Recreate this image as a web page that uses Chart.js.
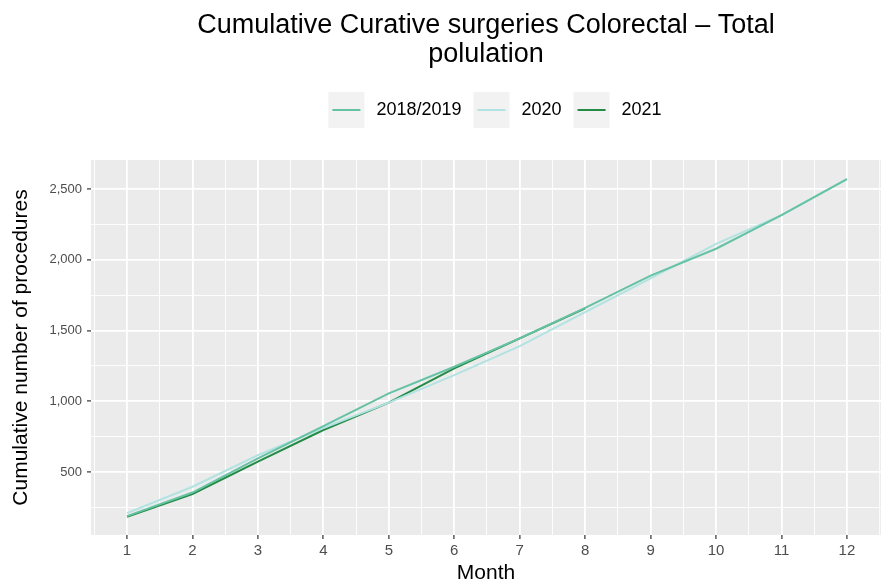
<!DOCTYPE html>
<html>
<head>
<meta charset="utf-8">
<script src="https://cdn.jsdelivr.net/npm/chart.js@4/dist/chart.umd.min.js"></script>
<style>
  html, body { margin: 0; padding: 0; background: #ffffff; overflow: hidden; }
  #wrap { width: 881px; height: 585px; position: relative; }
</style>
</head>
<body>
<div id="wrap"><canvas id="c" width="881" height="585"></canvas></div>
<script>
// ---- data ----
const months = [1, 2, 3, 4, 5, 6, 7, 8, 9, 10, 11, 12];
const seriesNames = ["2018/2019", "2020", "2021"];
const values2018_2019 = [188, 355, 597, 825, 1056, 1244, 1445, 1660, 1888, 2078, 2316, 2570];
const values2020 = [210, 396, 620, 811, 990, 1185, 1390, 1630, 1869, 2112, 2316, 2571];
const values2021 = [184, 345, 573, 797, 990, 1233, 1445, 1657];
const yTickValues = [250, 500, 750, 1000, 1250, 1500, 1750, 2000, 2250, 2500];
const xTickValues = [0.5, 1, 1.5, 2, 2.5, 3, 3.5, 4, 4.5, 5, 5.5, 6, 6.5, 7, 7.5, 8, 8.5, 9, 9.5, 10, 10.5, 11, 11.5, 12];
const xEdgeMinor = [12.5];
const titleLines = ["Cumulative Curative surgeries Colorectal \u2013 Total", "polulation"];

const colors = ["#66c2a4", "#b2e2e2", "#238b45"];
const allValues = [values2018_2019, values2020, values2021];

const datasets = allValues.map((vals, i) => ({
  label: seriesNames[i],
  data: vals.map((v, k) => ({ x: months[k], y: v })),
  borderColor: colors[i],
  backgroundColor: colors[i],
  borderWidth: 2,
  pointRadius: 0,
  pointHoverRadius: 0,
  tension: 0,
  fill: false
}));

const FONT = "'Liberation Sans', Arial, Helvetica, sans-serif";
const LEG_E = 22; // extra vertical room inside legend item
const LEG_SHIFT = 9;

const panelBg = {
  id: 'panelBg',
  afterLayout(chart) {
    const lg = chart.legend;
    if (lg) { lg.left += LEG_SHIFT; lg.right += LEG_SHIFT; }
  },
  beforeDraw(chart) {
    const { ctx, chartArea: a } = chart;
    ctx.save();
    ctx.fillStyle = '#ebebeb';
    ctx.fillRect(a.left, a.top, a.right - a.left, a.bottom - a.top);
    const lg = chart.legend;
    if (lg && lg.legendHitBoxes) {
      lg.legendHitBoxes.forEach((hb, i) => {
        const top = hb.top + LEG_E;
        ctx.fillStyle = '#f2f2f2';
        ctx.fillRect(hb.left, top, 36, 36);
        ctx.strokeStyle = colors[i];
        ctx.lineWidth = 2;
        ctx.beginPath();
        ctx.moveTo(hb.left + 4, top + 18);
        ctx.lineTo(hb.left + 32, top + 18);
        ctx.stroke();
      });
    }
    ctx.restore();
  },
  beforeDatasetsDraw(chart) {
    const { ctx, chartArea: a, scales } = chart;
    ctx.save();
    ctx.strokeStyle = '#ffffff';
    ctx.lineWidth = 0.9;
    xEdgeMinor.forEach(v => {
      const px = scales.x.getPixelForValue(v);
      if (px <= a.right) {
        ctx.beginPath();
        ctx.moveTo(px, a.top);
        ctx.lineTo(px, a.bottom);
        ctx.stroke();
      }
    });
    ctx.restore();
  }
};

const isMajorX = v => Math.abs(v - Math.round(v)) < 1e-6;
const isMajorY = v => v % 500 === 0;

new Chart(document.getElementById('c'), {
  type: 'line',
  data: { datasets },
  options: {
    responsive: false,
    animation: false,
    devicePixelRatio: 1,
    layout: { padding: { left: 0, right: 0, top: 0, bottom: 0 } },
    plugins: {
      tooltip: { enabled: false },
      title: {
        display: true,
        fullSize: false,
        text: titleLines,
        color: '#000000',
        font: { family: FONT, size: 27, weight: 'normal', lineHeight: 29 / 27 },
        padding: { top: 11, bottom: -11 }
      },
      legend: {
        display: true,
        fullSize: false,
        position: 'top',
        align: 'center',
        labels: {
          boxWidth: 39,
          boxHeight: 36 + 2 * LEG_E,
          padding: 12,
          color: '#1a1a1a',
          font: { family: FONT, size: 18 },
          generateLabels: (chart) => seriesNames.map((n, i) => ({
            text: n,
            fillStyle: 'rgba(0,0,0,0)',
            strokeStyle: 'rgba(0,0,0,0)',
            lineWidth: 0,
            datasetIndex: i,
            hidden: false
          }))
        }
      }
    },
    scales: {
      x: {
        type: 'linear',
        min: 0.45,
        max: 12.52,
        afterBuildTicks: (s) => { s.ticks = xTickValues.map(v => ({ value: v })); },
        afterFit: (s) => { s.height = 50; },
        border: { display: false },
        grid: {
          color: '#ffffff',
          lineWidth: (c) => isMajorX(c.tick.value) ? 1.8 : 0.9,
          drawTicks: true,
          tickLength: 4,
          tickColor: (c) => isMajorX(c.tick.value) ? '#333333' : 'rgba(0,0,0,0)',
          tickWidth: 1.2
        },
        ticks: {
          autoSkip: false,
          maxRotation: 0,
          padding: 3,
          color: '#4d4d4d',
          font: { family: FONT, size: 15 },
          callback: (v) => isMajorX(v) ? String(Math.round(v)) : ''
        },
        title: {
          display: true,
          text: 'Month',
          color: '#000000',
          font: { family: FONT, size: 21, lineHeight: 1.1 },
          padding: { top: 0, bottom: 0 }
        }
      },
      y: {
        type: 'linear',
        min: 55,
        max: 2705,
        afterBuildTicks: (s) => { s.ticks = yTickValues.map(v => ({ value: v })); },
        afterFit: (s) => { s.width = 91; },
        border: { display: false },
        grid: {
          color: '#ffffff',
          lineWidth: (c) => isMajorY(c.tick.value) ? 1.8 : 0.9,
          drawTicks: true,
          tickLength: 4,
          tickColor: (c) => isMajorY(c.tick.value) ? '#333333' : 'rgba(0,0,0,0)',
          tickWidth: 1.2
        },
        ticks: {
          padding: 5,
          color: '#4d4d4d',
          font: { family: FONT, size: 13 },
          callback: (v) => isMajorY(v) ? v.toLocaleString('en-US') : ''
        },
        title: {
          display: true,
          text: 'Cumulative number of procedures',
          color: '#000000',
          font: { family: FONT, size: 21, lineHeight: 1.2 },
          padding: { top: 9, bottom: 0 }
        }
      }
    }
  },
  plugins: [panelBg]
});
</script>
</body>
</html>
